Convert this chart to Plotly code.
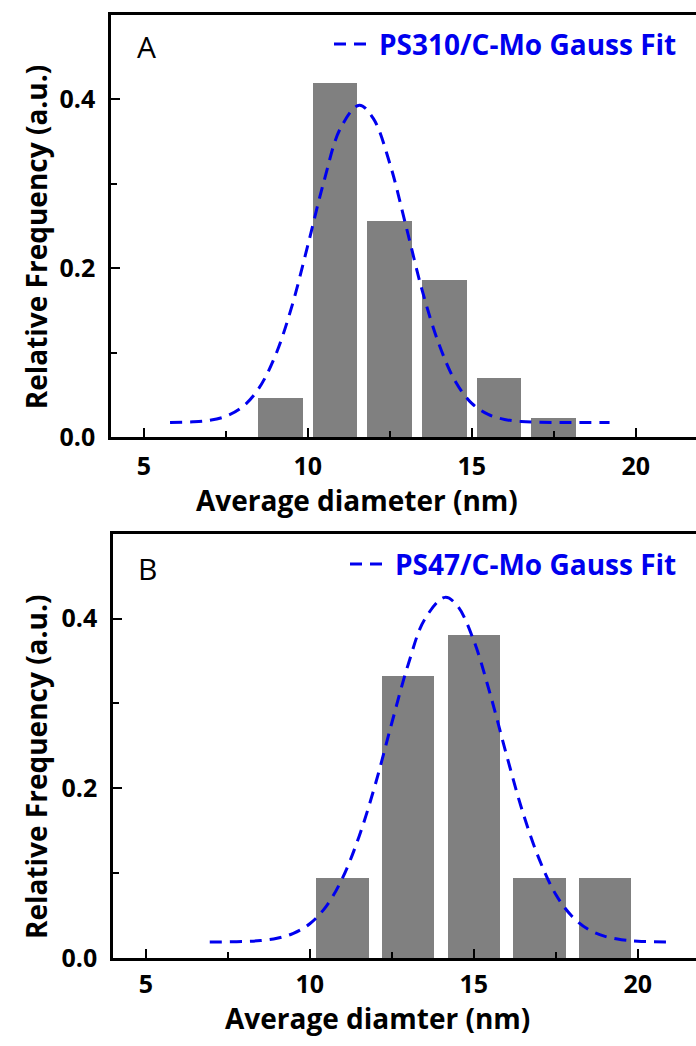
import plotly.graph_objects as go

# ---------------- data ----------------
# Panel A : PS310/C-Mo
a_bin_centers = [9.17, 10.83, 12.5, 14.17, 15.83, 17.5]
a_freq = [0.0465, 0.419, 0.256, 0.186, 0.070, 0.023]
a_fit_x = [5.8, 6.5, 7.0, 7.5, 8.0, 8.5, 9.0, 9.5, 10.0, 10.5, 11.0, 11.57, 12.0,
           12.5, 13.0, 13.5, 14.0, 14.5, 15.0, 15.5, 16.0, 16.5, 17.0, 18.0, 19.2]
a_fit_y = [0.0175, 0.0182, 0.020, 0.0247, 0.0356, 0.0574, 0.0956, 0.153, 0.227,
           0.304, 0.366, 0.393, 0.377, 0.324, 0.249, 0.172, 0.110, 0.066, 0.040,
           0.027, 0.021, 0.0186, 0.0177, 0.0174, 0.0174]

# Panel B : PS47/C-Mo
b_bin_centers = [11, 13, 15, 17, 19]
b_freq = [0.0952, 0.333, 0.381, 0.0952, 0.0952]
b_fit_x = [6.95, 8.0, 8.5, 9.0, 9.5, 10.0, 10.5, 11.0, 11.5, 12.0, 12.5, 13.0, 13.5,
           14.12, 14.5, 15.0, 15.5, 16.0, 16.5, 17.0, 17.5, 18.0, 18.5, 19.0, 19.5,
           20.0, 21.08]
b_fit_y = [0.019, 0.0196, 0.0207, 0.0233, 0.0292, 0.0405, 0.061, 0.0946, 0.143,
           0.205, 0.277, 0.346, 0.399, 0.425, 0.415, 0.374, 0.311, 0.239, 0.171,
           0.116, 0.075, 0.049, 0.0336, 0.0256, 0.0217, 0.020, 0.019]

a_name = "PS310/C-Mo Gauss Fit"
b_name = "PS47/C-Mo Gauss Fit"
x_title_a = "Average diameter (nm)"
x_title_b = "Average diamter (nm)"
y_title = "Relative Frequency (a.u.)"

# ---------------- style ----------------
W, H = 696, 1046
FONT = "Open Sans"
BAR_COLOR = "#808080"
FIT_COLOR = "#0000EE"
BAR_W_A = 1.37
BAR_W_B = 1.60
FIT_DASH = "12px,8px"

fig = go.Figure()

fig.add_trace(go.Bar(x=a_bin_centers, y=a_freq, width=BAR_W_A,
                     marker=dict(color=BAR_COLOR, line=dict(width=0)),
                     showlegend=False, xaxis="x", yaxis="y"))
fig.add_trace(go.Scatter(x=a_fit_x, y=a_fit_y, mode="lines", name=a_name,
                         line=dict(color=FIT_COLOR, width=3, dash=FIT_DASH, shape="spline"),
                         legend="legend", xaxis="x", yaxis="y"))

fig.add_trace(go.Bar(x=b_bin_centers, y=b_freq, width=BAR_W_B,
                     marker=dict(color=BAR_COLOR, line=dict(width=0)),
                     showlegend=False, xaxis="x2", yaxis="y2"))
fig.add_trace(go.Scatter(x=b_fit_x, y=b_fit_y, mode="lines", name=b_name,
                         line=dict(color=FIT_COLOR, width=3, dash=FIT_DASH, shape="spline"),
                         legend="legend2", xaxis="x2", yaxis="y2"))

px_per_unit = 32.8
a_left, b_left = 111, 113
a_bottom, a_top = 444, 15
b_bottom, b_top = 973, 542


def xaxis_cfg(left, anchor, standoff):
    return dict(
        domain=[left / W, 1], range=[4, 4 + (W - left) / px_per_unit],
        anchor=anchor, tick0=5, dtick=5, ticks="inside", ticklen=9, tickwidth=2,
        tickcolor="black",
        minor=dict(dtick=2.5, tick0=5, ticks="inside", ticklen=6, tickwidth=2, tickcolor="black"),
        showline=True, linecolor="black", linewidth=2.5, mirror=True,
        showgrid=False, zeroline=False, ticklabelstandoff=standoff,
        tickfont=dict(family=FONT, size=25, color="black", weight="bold"),
    )


def yaxis_cfg(bottom, top, anchor):
    return dict(
        domain=[(H - bottom) / H, (H - top) / H], range=[0, 0.5], anchor=anchor,
        tick0=0, dtick=0.2, tickformat=".1f", ticks="inside", ticklen=9, tickwidth=2,
        tickcolor="black",
        minor=dict(dtick=0.1, ticks="inside", ticklen=6, tickwidth=2, tickcolor="black"),
        showline=True, linecolor="black", linewidth=2.5, mirror=False,
        showgrid=False, zeroline=False, ticklabelstandoff=8,
        tickfont=dict(family=FONT, size=25, color="black", weight="bold"),
    )


legend_font = dict(family=FONT, size=28, color=FIT_COLOR, weight="bold")
title_font = dict(family=FONT, size=28, color="black", weight="bold")


def px_ann(text, x, y, font, angle=0):
    return dict(text=text, x=x / W, y=1 - y / H, xref="paper", yref="paper",
                xanchor="center", yanchor="middle", showarrow=False,
                textangle=angle, font=font)


fig.update_layout(
    width=W, height=H,
    margin=dict(l=0, r=0, t=0, b=0),
    paper_bgcolor="white", plot_bgcolor="white",
    xaxis=xaxis_cfg(a_left, "y", 5),
    yaxis=yaxis_cfg(a_bottom, a_top, "x"),
    xaxis2=xaxis_cfg(b_left, "y2", 2),
    yaxis2=yaxis_cfg(b_bottom, b_top, "x2"),
    bargap=0,
    legend=dict(x=682 / W, y=1 - 45 / H, xanchor="right", yanchor="middle",
                bgcolor="rgba(0,0,0,0)", font=legend_font, itemwidth=40),
    legend2=dict(x=682 / W, y=1 - 573 / H, xanchor="right", yanchor="middle",
                 bgcolor="rgba(0,0,0,0)", font=legend_font, itemwidth=40),
    annotations=[
        px_ann("A", 146, 47, dict(family=FONT, size=30, color="black")),
        px_ann("B", 147, 577, dict(family=FONT, size=30, color="black")),
        px_ann(x_title_a, 357, 508, title_font),
        px_ann(x_title_b, 377, 1034, title_font),
        px_ann(y_title, 36, 241, title_font, -90),
        px_ann(y_title, 36, 779, title_font, -90),
    ],
)

fig.write_html("out.html", config={"displayModeBar": False},
               post_script="document.body.style.margin='0';")
